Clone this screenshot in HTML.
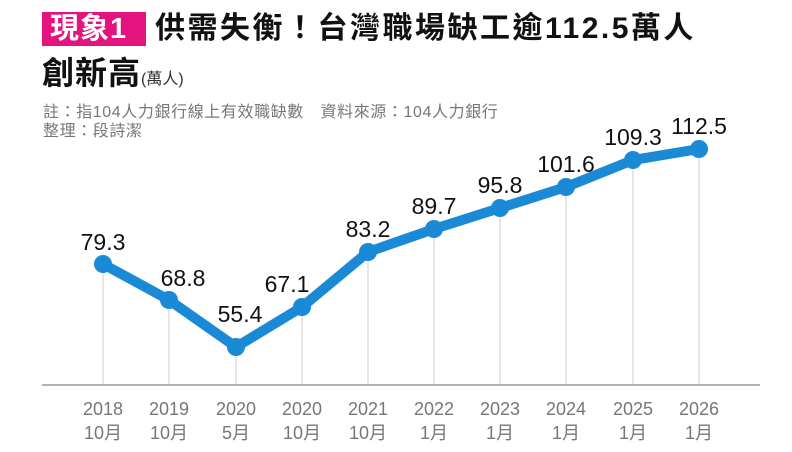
<!DOCTYPE html>
<html><head><meta charset="utf-8"><style>
body{margin:0;width:792px;height:452px;background:#fff;overflow:hidden;position:relative;font-family:"Liberation Sans","Noto Sans CJK TC",sans-serif}
.t{position:absolute;white-space:nowrap}
</style></head><body>
<div class="t" style="left:42px;top:12px;width:104px;height:34px;background:#e4147f"></div>
<div class="t" style="left:50px;top:10px;font-size:29px;font-weight:bold;color:#fff;line-height:38px;letter-spacing:1px">現象1</div>
<div class="t" style="left:155px;top:10px;font-size:30px;font-weight:bold;color:#111;line-height:38px;letter-spacing:2.5px">供需失衡！台灣職場缺工逾112.5萬人</div>
<div class="t" style="left:42px;top:53px;font-size:32px;font-weight:bold;color:#111;line-height:40px;letter-spacing:1px">創新高<span style="font-size:16px;font-weight:normal;color:#333;letter-spacing:0">(萬人)</span></div>
<div class="t" style="left:43px;top:103px;font-size:16px;color:#777;line-height:19px;letter-spacing:0.6px">註：指104人力銀行線上有效職缺數　資料來源：104人力銀行<br>整理：段詩潔</div>
<svg width="792" height="452" style="position:absolute;left:0;top:0">
<g stroke="#ccc" stroke-width="1">
<line x1="103" y1="264" x2="103" y2="385"/><line x1="169" y1="300" x2="169" y2="385"/><line x1="236" y1="347" x2="236" y2="385"/><line x1="302" y1="307" x2="302" y2="385"/><line x1="368" y1="252" x2="368" y2="385"/><line x1="434" y1="229" x2="434" y2="385"/><line x1="500" y1="208" x2="500" y2="385"/><line x1="566" y1="187" x2="566" y2="385"/><line x1="633" y1="160" x2="633" y2="385"/><line x1="699" y1="149" x2="699" y2="385"/>
</g>
<line x1="42" y1="385" x2="760" y2="385" stroke="#999" stroke-width="1.5"/>
<polyline fill="none" stroke="#1a8ad6" stroke-width="10" stroke-linejoin="round" points="103,264 169,300 236,347 302,307 368,252 434,229 500,208 566,187 633,160 699,149"/>
<g fill="#1a8ad6">
<circle cx="103" cy="264" r="9"/><circle cx="169" cy="300" r="9"/><circle cx="236" cy="347" r="9"/><circle cx="302" cy="307" r="9"/><circle cx="368" cy="252" r="9"/><circle cx="434" cy="229" r="9"/><circle cx="500" cy="208" r="9"/><circle cx="566" cy="187" r="9"/><circle cx="633" cy="160" r="9"/><circle cx="699" cy="149" r="9"/>
</g>
<g font-family="Liberation Sans, sans-serif" font-size="23" fill="#111" text-anchor="middle">
<text x="103" y="250">79.3</text><text x="183" y="286">68.8</text><text x="240" y="322">55.4</text><text x="287" y="292">67.1</text><text x="368" y="237">83.2</text><text x="434" y="214">89.7</text><text x="500" y="193">95.8</text><text x="566" y="172">101.6</text><text x="633" y="145">109.3</text><text x="699" y="134">112.5</text>
</g>
<g font-family="Liberation Sans, 'Noto Sans CJK TC', sans-serif" font-size="18" fill="#777" text-anchor="middle">
<text x="103" y="415">2018</text><text x="103" y="439">10月</text>
<text x="169" y="415">2019</text><text x="169" y="439">10月</text>
<text x="236" y="415">2020</text><text x="236" y="439">5月</text>
<text x="302" y="415">2020</text><text x="302" y="439">10月</text>
<text x="368" y="415">2021</text><text x="368" y="439">10月</text>
<text x="434" y="415">2022</text><text x="434" y="439">1月</text>
<text x="500" y="415">2023</text><text x="500" y="439">1月</text>
<text x="566" y="415">2024</text><text x="566" y="439">1月</text>
<text x="633" y="415">2025</text><text x="633" y="439">1月</text>
<text x="699" y="415">2026</text><text x="699" y="439">1月</text>
</g>
</svg>
</body></html>
